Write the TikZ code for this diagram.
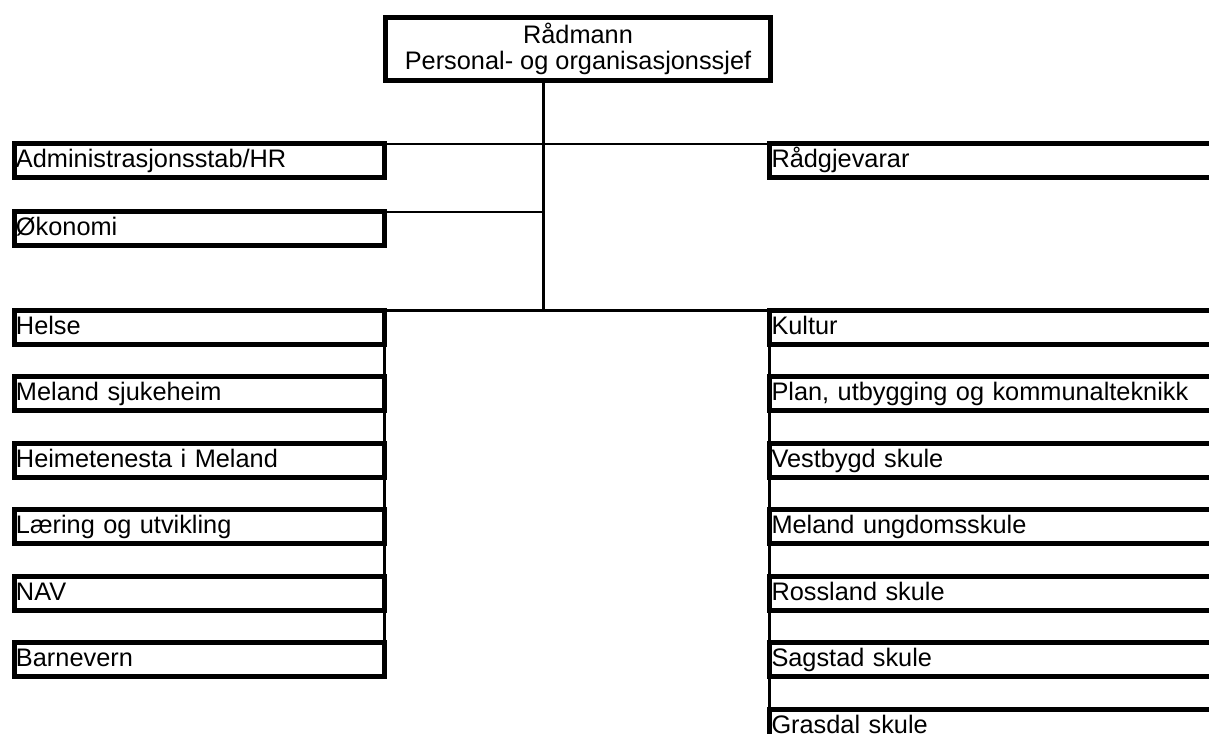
\documentclass[tikz,border=0pt]{standalone}
\usepackage{fontspec}
\setmainfont{Liberation Sans}
\usetikzlibrary{positioning}
\usetikzlibrary{calc}
\newcommand\orgfont{\fontsize{19}{19.5}\selectfont}
\tikzset{
	unit/.style={rectangle, draw=black, line width=3.75pt, fill=white, outer sep=0pt,
		inner xsep=1.5pt, inner ysep=0pt, text height=18pt, text depth=7.5pt,
		align=left, font=\orgfont},
	leftUnit/.style={unit, text width=274.5pt},
	rightUnit/.style={unit, text width=357pt},
	chief/.style={rectangle, draw=black, line width=3.75pt, fill=white, outer sep=0pt,
		minimum width=288.75pt, minimum height=47.25pt, inner sep=0pt,
		align=center, font=\orgfont},
}
\begin{document}
\begin{tikzpicture}[x=0.75pt, y=-0.75pt,
		link/.style={draw=black, line width=1.5pt},
		trunkLine/.style={draw=black, line width=2.25pt},
		node distance = 24.4pt and 0pt]

		% page frame, right column runs off the page
		\useasboundingbox (0,0) rectangle (1209,734);
		\clip (0,0) rectangle (1209,734);

		% top box
		\node[chief] (raadmann) at (578,49) {Rådmann\\Personal- og organisasjonssjef};

		% staff units
		\node[leftUnit, anchor=north west] (admin) at (14,144) {Administrasjonsstab/HR};
		\node[leftUnit, anchor=north west] (okonomi) at (14,212) {Økonomi};
		\node[rightUnit, anchor=north west] (raadgjevarar) at (769.5,144) {Rådgjevarar};

		% left column - stacked below Helse
		\node[leftUnit, anchor=north west] (helse) at (14,310) {Helse};
		\node[leftUnit, below = of helse] (sjukeheim) {Meland sjukeheim};
		\node[leftUnit, below = of sjukeheim] (heimeteneste) {Heimetenesta i Meland};
		\node[leftUnit, below = of heimeteneste] (laering) {Læring og utvikling};
		\node[leftUnit, below = of laering] (nav) {NAV};
		\node[leftUnit, below = of nav] (barnevern) {Barnevern};

		% right column - stacked below Kultur
		\node[rightUnit, anchor=north west] (kultur) at (769.5,310) {Kultur};
		\node[rightUnit, below = of kultur] (plan) {Plan, utbygging og kommunalteknikk};
		\node[rightUnit, below = of plan] (vestbygd) {Vestbygd skule};
		\node[rightUnit, below = of vestbygd] (ungdomsskule) {Meland ungdomsskule};
		\node[rightUnit, below = of ungdomsskule] (rossland) {Rossland skule};
		\node[rightUnit, below = of rossland] (sagstad) {Sagstad skule};
		\node[rightUnit, below = of sagstad] (grasdal) {Grasdal skule};

		% trunk from the top box, off centre
		\coordinate (trunkTop) at (543.5,80.5);
		\draw[trunkLine] (trunkTop) -- (trunkTop |- helse.north);

		% staff lines
		\draw[link] (admin.north east) -- (raadgjevarar.north west);
		\draw[link] (okonomi.north east) -- (trunkTop |- okonomi.north);

		% line to both columns
		\draw[trunkLine] (helse.north east) -- (kultur.north west);

		% column spines
		\draw[trunkLine] (helse.south east) -- (barnevern.north east);
		\draw[trunkLine] (kultur.south west) -- (grasdal.north west);

	\end{tikzpicture}
\end{document}
